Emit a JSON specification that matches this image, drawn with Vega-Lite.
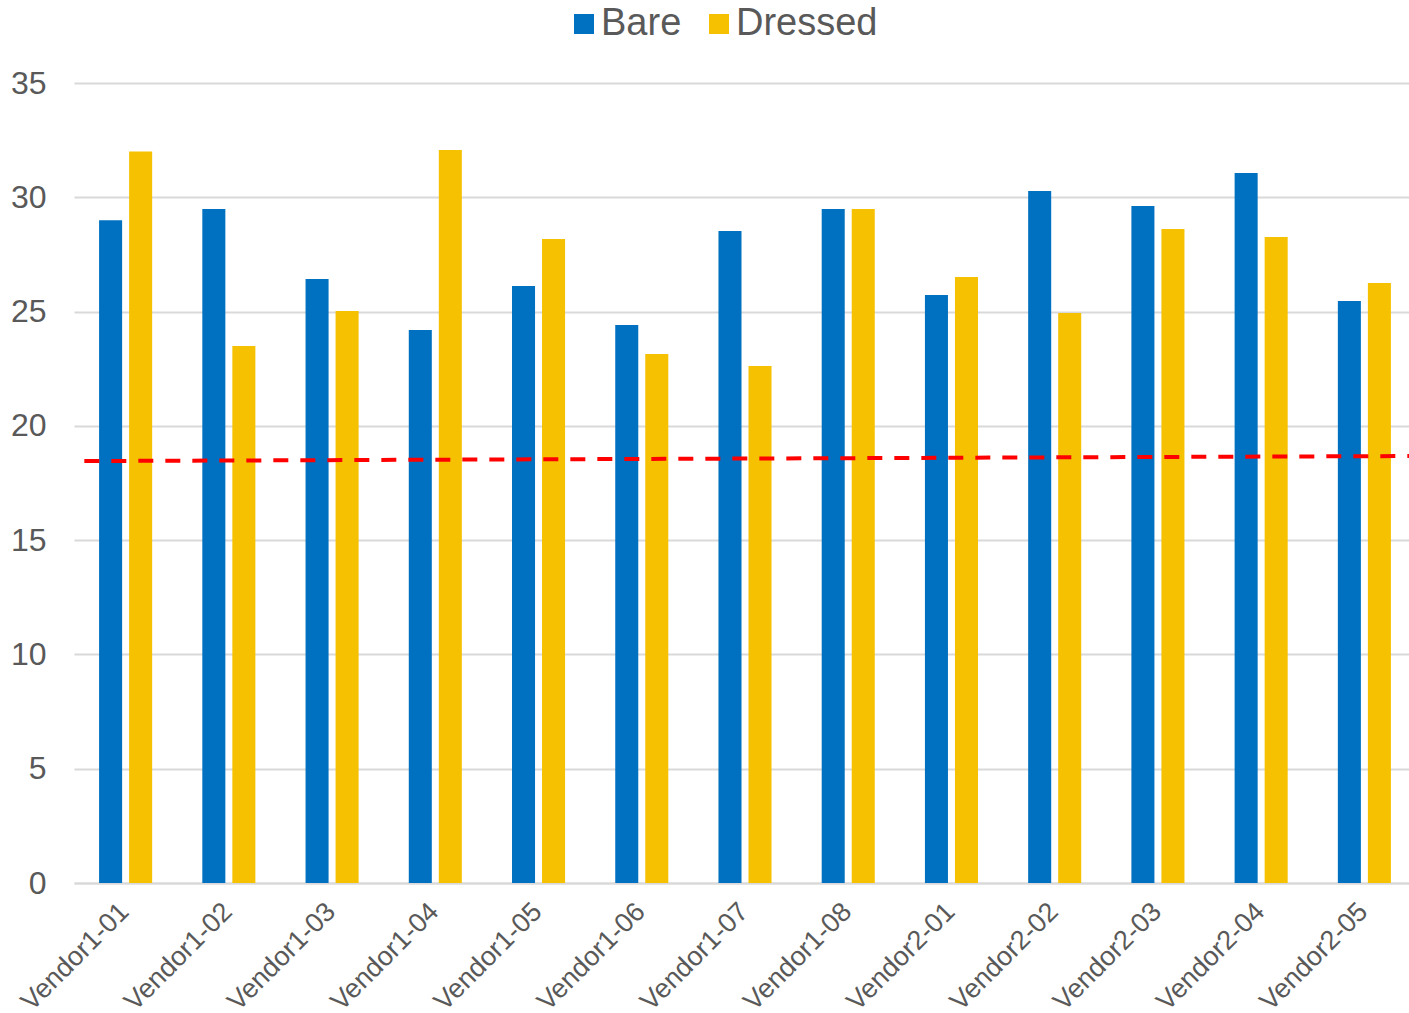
{
  "$schema": "https://vega.github.io/schema/vega-lite/v6.json",
  "autosize": {"type": "none"},
  "padding": {"left": 74, "top": 83, "right": 0, "bottom": 130},
  "width": 1335,
  "height": 800,
  "background": "white",
  "config": {
    "font": "Liberation Sans",
    "view": {"stroke": null},
    "axis": {"labelColor": "#595959", "labelFont": "Liberation Sans"},
    "legend": {"labelColor": "#595959", "labelFont": "Liberation Sans"}
  },
  "layer": [
    {
      "data": {
        "values": [
          {"vendor": "Vendor1-01", "type": "Bare", "value": 29.0},
          {"vendor": "Vendor1-01", "type": "Dressed", "value": 32.0},
          {"vendor": "Vendor1-02", "type": "Bare", "value": 29.49},
          {"vendor": "Vendor1-02", "type": "Dressed", "value": 23.49},
          {"vendor": "Vendor1-03", "type": "Bare", "value": 26.43},
          {"vendor": "Vendor1-03", "type": "Dressed", "value": 25.03},
          {"vendor": "Vendor1-04", "type": "Bare", "value": 24.19},
          {"vendor": "Vendor1-04", "type": "Dressed", "value": 32.07},
          {"vendor": "Vendor1-05", "type": "Bare", "value": 26.12},
          {"vendor": "Vendor1-05", "type": "Dressed", "value": 28.18},
          {"vendor": "Vendor1-06", "type": "Bare", "value": 24.41},
          {"vendor": "Vendor1-06", "type": "Dressed", "value": 23.14},
          {"vendor": "Vendor1-07", "type": "Bare", "value": 28.53},
          {"vendor": "Vendor1-07", "type": "Dressed", "value": 22.62},
          {"vendor": "Vendor1-08", "type": "Bare", "value": 29.49},
          {"vendor": "Vendor1-08", "type": "Dressed", "value": 29.49},
          {"vendor": "Vendor2-01", "type": "Bare", "value": 25.73},
          {"vendor": "Vendor2-01", "type": "Dressed", "value": 26.51},
          {"vendor": "Vendor2-02", "type": "Bare", "value": 30.28},
          {"vendor": "Vendor2-02", "type": "Dressed", "value": 24.94},
          {"vendor": "Vendor2-03", "type": "Bare", "value": 29.62},
          {"vendor": "Vendor2-03", "type": "Dressed", "value": 28.61},
          {"vendor": "Vendor2-04", "type": "Bare", "value": 31.06},
          {"vendor": "Vendor2-04", "type": "Dressed", "value": 28.26},
          {"vendor": "Vendor2-05", "type": "Bare", "value": 25.46},
          {"vendor": "Vendor2-05", "type": "Dressed", "value": 26.25}
        ]
      },
      "mark": {"type": "bar"},
      "encoding": {
        "x": {
          "field": "vendor",
          "type": "nominal",
          "sort": null,
          "scale": {"paddingInner": 0.486, "paddingOuter": 0.243, "range": [0, 1342]},
          "axis": {
            "title": null,
            "labelAngle": -45,
            "labelFontSize": 27,
            "labelPadding": 15,
            "labelOffset": -10,
            "ticks": false,
            "domainColor": "#d9d9d9",
            "domainWidth": 2,
            "grid": false
          }
        },
        "xOffset": {
          "field": "type",
          "type": "nominal",
          "scale": {"paddingInner": 0.233, "paddingOuter": 0}
        },
        "y": {
          "field": "value",
          "type": "quantitative",
          "scale": {"domain": [0, 35], "nice": false},
          "axis": {
            "title": null,
            "values": [0, 5, 10, 15, 20, 25, 30, 35],
            "labelFontSize": 32,
            "labelPadding": 28,
            "ticks": false,
            "domain": false,
            "gridColor": "#d9d9d9",
            "gridWidth": 2
          }
        },
        "color": {
          "field": "type",
          "type": "nominal",
          "scale": {"domain": ["Bare", "Dressed"], "range": ["#0070C0", "#F5C100"]},
          "legend": {
            "title": null,
            "orient": "none",
            "direction": "horizontal",
            "legendX": 491,
            "legendY": -78,
            "symbolType": "square",
            "symbolSize": 400,
            "symbolStrokeWidth": 0,
            "labelFontSize": 38,
            "labelOffset": -2,
            "columnPadding": 18
          }
        }
      }
    },
    {
      "data": {
        "values": [
          {"pos": 0.1, "trend": 18.46},
          {"pos": 12.94, "trend": 18.68}
        ]
      },
      "mark": {"type": "line", "color": "#FF0000", "strokeWidth": 4, "strokeDash": [15, 12]},
      "encoding": {
        "x": {
          "field": "pos",
          "type": "quantitative",
          "scale": {"domain": [0, 13], "range": [0, 1342], "nice": false, "zero": false},
          "axis": null
        },
        "y": {"field": "trend", "type": "quantitative"}
      }
    }
  ],
  "resolve": {"scale": {"x": "independent"}}
}
